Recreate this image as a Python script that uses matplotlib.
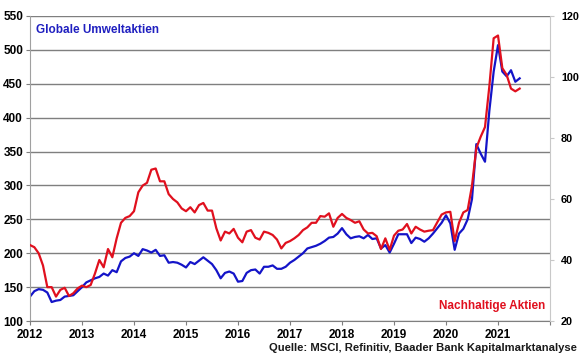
import numpy as np
import matplotlib
matplotlib.use("Agg")
import matplotlib.pyplot as plt

plt.rcParams['font.family'] = ['Liberation Sans', 'DejaVu Sans']

# monthly values, Jan 2012 .. Jun 2021
umwelt = [136, 144, 147, 146, 142, 128, 130, 131, 136, 137, 138, 144,
          150, 157, 160, 163, 165, 170, 167, 175, 172, 188, 193, 195,
          200, 196, 206, 204, 201, 205, 196, 197, 186, 187, 186, 183,
          179, 187, 184, 189, 194, 189, 184, 175, 163, 171, 173, 170,
          158, 159, 171, 175, 176, 170, 180, 180, 182, 177, 177, 180,
          186, 190, 195, 200, 207, 209, 211, 214, 218, 223, 224, 229,
          237, 228, 222, 224, 225, 222, 227, 221, 222, 207, 212, 201,
          214, 228, 228, 228, 215, 223, 221, 217, 222, 229, 237, 245,
          256, 244, 205, 229, 236, 250, 280, 361, 347, 335, 410, 468,
          507, 468, 461, 470, 453, 458]

nachhaltig = [44.9, 44.2, 42.2, 38.2, 31.1, 31.1, 28.0, 30.2, 30.9, 28.2, 29.1, 30.7,
              31.6, 31.1, 31.8, 35.6, 40.0, 37.6, 43.6, 40.9, 47.1, 52.2, 53.8, 54.4,
              56.0, 62.2, 64.4, 65.3, 69.6, 70.0, 65.8, 65.8, 61.6, 60.0, 58.9, 56.9,
              56.0, 57.3, 55.6, 58.0, 58.7, 56.2, 56.2, 50.4, 46.4, 49.3, 48.7, 50.2,
              47.3, 45.8, 49.3, 49.8, 47.3, 46.7, 49.3, 48.9, 48.2, 46.7, 43.8, 45.6,
              46.2, 47.1, 48.2, 49.8, 50.7, 52.2, 52.2, 54.4, 54.2, 55.3, 50.9, 53.8,
              55.1, 53.8, 53.1, 52.2, 52.7, 50.0, 48.7, 48.9, 47.8, 43.6, 47.1, 43.3,
              48.0, 49.6, 50.0, 51.8, 48.7, 50.9, 50.0, 49.3, 49.6, 49.8, 52.4, 54.9,
              55.6, 55.8, 46.2, 52.2, 55.6, 56.4, 64.4, 76.7, 80.4, 83.6, 96.9, 112.7,
              113.6, 102.9, 100.7, 96.2, 95.3, 96.2]

years = list(range(2012, 2023))
year_labels = [str(y) for y in range(2012, 2022)] + ['']

t = 2012 + np.arange(len(umwelt)) / 12.0

blue = '#1414C8'
red = '#E0101E'
grid = '#7F7F7F'

fig = plt.figure(figsize=(5.8, 3.59), dpi=100)
ax = fig.add_axes([30/580, 1 - 321/359, 520/580, 305/359])
ax2 = ax.twinx()

ax.plot(t, umwelt, color=blue, lw=1.6)
ax2.plot(t, nachhaltig, color=red, lw=1.6)

ax.set_xlim(2012, 2022)
ax.set_ylim(100, 550)
ax.set_yticks(range(100, 551, 50))
ax2.set_ylim(20, 120)
ax2.set_yticks(range(20, 121, 20))
ax.set_xticks(years)
ax.set_xticklabels(year_labels)

ax.yaxis.grid(True, color=grid, lw=1)
ax.set_axisbelow(True)

for a in (ax, ax2):
    for s in a.spines.values():
        s.set_visible(False)
ax.spines['left'].set_visible(True)
ax.spines['left'].set_color('#A0A0A0')
ax.spines['bottom'].set_visible(True)
ax.spines['bottom'].set_color(grid)
ax2.spines['right'].set_visible(True)
ax2.spines['right'].set_color('#C8C8C8')

ax.tick_params(axis='y', length=3, color=grid, pad=2, labelsize=8.5)
ax.tick_params(axis='x', length=3, color=grid, pad=3, labelsize=8.5)
ax2.tick_params(axis='y', length=3, color='#C8C8C8', pad=5, labelsize=7.8)
for lab in ax.get_xticklabels() + ax.get_yticklabels() + ax2.get_yticklabels():
    lab.set_fontweight('bold')

ax.text(0.012, 0.955, 'Globale Umweltaktien', transform=ax.transAxes,
        color='#2020C0', fontsize=8.5, fontweight='bold', ha='left', va='center')
ax.text(0.99, 0.05, 'Nachhaltige Aktien', transform=ax.transAxes,
        color=red, fontsize=8.5, fontweight='bold', ha='right', va='center')
fig.text(577/580, 1 - 348/359, 'Quelle: MSCI, Refinitiv, Baader Bank Kapitalmarktanalyse',
         fontsize=8.1, fontweight='bold', ha='right', va='center', color='#1A1A1A')

fig.savefig('out.png', dpi=100)
